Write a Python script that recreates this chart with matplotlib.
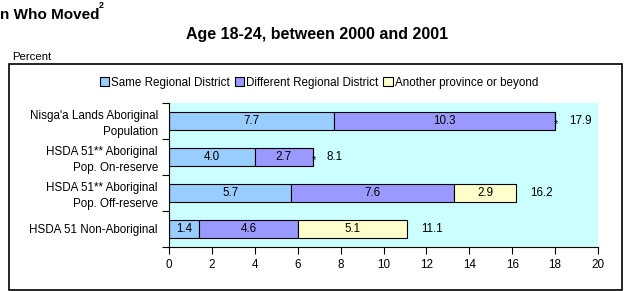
import numpy as np
import matplotlib
matplotlib.use("Agg")
import matplotlib.pyplot as plt
from matplotlib.patches import Rectangle, Patch

plt.rcParams['font.family'] = ['Liberation Sans', 'DejaVu Sans']

categories = ["Nisga'a Lands Aboriginal\nPopulation",
              "HSDA 51** Aboriginal\nPop. On-reserve",
              "HSDA 51** Aboriginal\nPop. Off-reserve",
              "HSDA 51 Non-Aboriginal"]
series = ["Same Regional District", "Different Regional District", "Another province or beyond"]
same_rd = [7.7, 4.0, 5.7, 1.4]
diff_rd = [10.3, 2.7, 7.6, 4.6]
another = [0.0, 0.0, 2.9, 5.1]
totals = [17.9, 8.1, 16.2, 11.1]
suppressed = [True, True, False, False]
colors = ["#99CCFF", "#9999FF", "#FFFFCC"]

W, H = 624, 291
fig = plt.figure(figsize=(W / 100, H / 100), dpi=100)

# outer frame
fig.patches.append(Rectangle((9 / W, 1 - 290 / H), 613 / W, 226 / H, transform=fig.transFigure,
                             fill=False, edgecolor="black", linewidth=1.2))

fig.text(0, 1 - 15 / H, "n Who Moved", fontsize=11, fontweight="bold", va="center", ha="left")
fig.text(99 / W, 1 - 6 / H, "2", fontsize=6.5, fontweight="bold", va="center", ha="left")
fig.text(317 / W, 1 - 34 / H, "Age 18-24, between 2000 and 2001", fontsize=11.5, fontweight="bold",
         va="center", ha="center")
fig.text(12 / W, 1 - 57 / H, "Percent", fontsize=8.2, va="center", ha="left")

ax = fig.add_axes([169 / W, 1 - 247 / H, 429 / W, 144 / H])
ax.set_facecolor("#CCFFFF")

y = np.arange(len(categories))
left = np.zeros(len(categories))
for vals, col in zip([same_rd, diff_rd, another], colors):
    vals = np.array(vals)
    ax.barh(y, vals, left=left, height=0.5, color=col, edgecolor="black", linewidth=0.8)
    for yi, (l, v) in enumerate(zip(left, vals)):
        if v > 0:
            ax.text(l + v / 2, yi, f"{v:.1f}", ha="center", va="center", fontsize=8.4)
    left = left + vals

for yi, (end, tot, sup) in enumerate(zip(left, totals, suppressed)):
    ax.text(end + 0.65, yi, f"{tot:.1f}", ha="left", va="center", fontsize=8.4)
    if sup:
        ax.text(end + 0.05, yi + 0.08, "*", ha="center", va="center", fontsize=8)

ax.set_xlim(0, 20)
ax.set_ylim(3.5, -0.5)
ax.set_xticks(np.arange(0, 21, 2))
ax.set_yticks(y)
ax.set_yticklabels(categories, fontsize=8.4, linespacing=1.35)
ax.tick_params(axis="y", length=0, pad=8)
ax.set_yticks(np.arange(-0.5, 4, 1), minor=True)
ax.tick_params(axis="y", which="minor", length=5, width=0.8)
ax.tick_params(axis="x", labelsize=8.4, length=5, width=0.8, pad=4)
for s in ["top", "right"]:
    ax.spines[s].set_visible(False)
for s in ["left", "bottom"]:
    ax.spines[s].set_linewidth(0.8)

handles = [Patch(facecolor=c, edgecolor="black", linewidth=0.8) for c in colors]
fig.legend(handles, series, loc="center", bbox_to_anchor=(319 / W, 1 - 83 / H), ncol=3,
           frameon=False, fontsize=8.4, handlelength=0.8, handleheight=0.8,
           handletextpad=0.2, columnspacing=0.4)

fig.savefig("out.png", dpi=100)
